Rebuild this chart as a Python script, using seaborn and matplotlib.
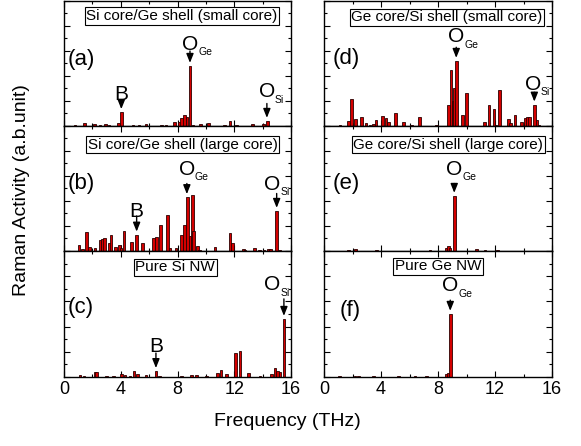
import numpy as np
import pandas as pd
import matplotlib
matplotlib.use("Agg")
import matplotlib.pyplot as plt
from matplotlib.ticker import MultipleLocator
import seaborn as sns

# ---- Raman activity spectra (frequency in THz, activity in arbitrary units) ----
freq_a = [0.78, 1.43, 2.14, 2.54, 2.94, 3.17, 3.85, 4.04, 4.87, 5.29, 5.78, 6.88,
          7.19, 7.78, 8.15, 8.30, 8.50, 8.68, 8.88, 9.10, 9.63, 10.17, 11.30, 11.70,
          12.17, 13.30, 14.05, 14.34]
act_a = [0.010, 0.025, 0.016, 0.008, 0.012, 0.008, 0.020, 0.110, 0.006, 0.006, 0.016, 0.008,
         0.006, 0.030, 0.030, 0.060, 0.085, 0.070, 0.480, 0.008, 0.016, 0.022, 0.006, 0.040,
         0.010, 0.016, 0.014, 0.040]

freq_b = [1.06, 1.30, 1.60, 1.78, 2.18, 2.54, 2.72, 2.84, 3.19, 3.31, 3.62, 3.90, 4.02,
          4.23, 4.77, 5.12, 5.52, 6.29, 6.53, 6.81, 7.31, 7.47, 7.89, 8.29, 8.48, 8.71,
          8.88, 9.04, 9.14, 9.42, 9.54, 10.64, 11.70, 11.89, 12.64, 12.76, 13.41, 13.77,
          14.10, 14.40, 14.57, 14.99, 15.20]
act_b = [0.050, 0.015, 0.155, 0.030, 0.022, 0.090, 0.095, 0.100, 0.060, 0.125, 0.030, 0.045, 0.025,
         0.160, 0.075, 0.130, 0.060, 0.100, 0.108, 0.205, 0.290, 0.020, 0.025, 0.130, 0.210, 0.430,
         0.120, 0.450, 0.160, 0.040, 0.010, 0.030, 0.145, 0.065, 0.014, 0.008, 0.020, 0.010,
         0.006, 0.015, 0.015, 0.320, 0.006]

freq_c = [1.13, 1.41, 2.18, 2.30, 3.00, 3.47, 4.06, 4.30, 4.65, 4.93, 5.17, 5.78, 6.48,
          6.72, 8.29, 9.00, 9.35, 10.06, 10.83, 11.06, 11.47, 12.10, 12.40, 12.99, 13.80,
          14.64, 14.87, 15.03, 15.22, 15.50]
act_c = [0.016, 0.008, 0.040, 0.040, 0.006, 0.006, 0.024, 0.016, 0.006, 0.048, 0.024, 0.016, 0.046,
         0.006, 0.006, 0.016, 0.016, 0.006, 0.035, 0.055, 0.025, 0.190, 0.205, 0.035, 0.006,
         0.024, 0.072, 0.048, 0.040, 0.460]

freq_d = [1.12, 1.71, 1.94, 2.22, 2.64, 2.95, 3.23, 3.46, 3.65, 4.12, 4.35, 4.51, 5.03,
          5.57, 6.15, 6.69, 7.91, 8.72, 8.91, 9.05, 9.13, 9.28, 9.73, 10.01, 11.25, 11.58,
          11.93, 12.07, 12.32, 12.93, 13.10, 13.40, 13.87, 14.11, 14.27, 14.41, 14.79,
          14.95, 15.09]
act_d = [0.006, 0.040, 0.215, 0.055, 0.070, 0.024, 0.008, 0.016, 0.045, 0.080, 0.060, 0.030, 0.100,
         0.030, 0.006, 0.070, 0.008, 0.170, 0.450, 0.200, 0.300, 0.520, 0.090, 0.260, 0.030, 0.170,
         0.135, 0.008, 0.290, 0.055, 0.024, 0.090, 0.030, 0.060, 0.070, 0.070, 0.170,
         0.050, 0.008]

freq_e = [1.71, 2.22, 3.70, 7.44, 8.56, 8.72, 8.84, 9.14, 10.71, 11.30, 12.16]
act_e = [0.008, 0.016, 0.006, 0.006, 0.024, 0.040, 0.024, 0.440, 0.016, 0.010, 0.008]

freq_f = [1.10, 2.17, 2.41, 3.46, 5.21, 6.39, 7.20, 8.56, 8.72, 8.86]
act_f = [0.010, 0.006, 0.006, 0.006, 0.005, 0.005, 0.005, 0.024, 0.032, 0.500]

panel_tags = ["(a)", "(b)", "(c)", "(d)", "(e)", "(f)"]
panel_titles = ["Si core/Ge shell (small core)", "Si core/Ge shell (large core)", "Pure Si NW",
                "Ge core/Si shell (small core)", "Ge core/Si shell (large core)", "Pure Ge NW"]

# arrow labels: (marked bar, arrow x, label x, arrow tail y, label centre y, letter, subscript)
peaks_a = [(4.04, 4.04, 4.04, 0.21, 0.27, "B", ""),
           (8.88, 8.88, 8.88, 0.60, 0.67, "O", "Ge"),
           (14.34, 14.30, 14.30, 0.18, 0.29, "O", "Si")]
peaks_b = [(5.12, 5.12, 5.12, 0.28, 0.33, "B", ""),
           (8.71, 8.66, 8.66, 0.54, 0.67, "O", "Ge"),
           (14.99, 14.99, 14.70, 0.46, 0.55, "O", "Si")]
peaks_c = [(6.48, 6.48, 6.48, 0.19, 0.26, "B", ""),
           (15.50, 15.50, 14.70, 0.62, 0.75, "O", "Si")]
peaks_d = [(9.28, 9.28, 9.28, 0.63, 0.73, "O", "Ge"),
           (14.79, 14.76, 14.66, 0.27, 0.35, "O", "Si")]
peaks_e = [(9.14, 9.14, 9.14, 0.54, 0.67, "O", "Ge")]
peaks_f = [(8.86, 8.86, 8.84, 0.61, 0.74, "O", "Ge")]

x_ticks = [0, 4, 8, 12, 16]

sns.set_theme(style="ticks")
plt.rcParams["font.family"] = ["Liberation Sans", "DejaVu Sans"]
plt.rcParams["text.color"] = "black"
plt.rcParams["xtick.color"] = "black"
plt.rcParams["ytick.color"] = "black"

W, H = 581, 446
fig = plt.figure(figsize=(W / 100, H / 100), dpi=100)


def axes_px(x0, x1, y0, y1):
    return fig.add_axes([x0 / W, 1 - y1 / H, (x1 - x0) / W, (y1 - y0) / H])


cols = [(64, 291), (324, 552)]
rows = [(1, 126), (126, 251), (251, 377)]

spectra = [(freq_a, act_a, peaks_a), (freq_b, act_b, peaks_b), (freq_c, act_c, peaks_c),
           (freq_d, act_d, peaks_d), (freq_e, act_e, peaks_e), (freq_f, act_f, peaks_f)]

tag_pos = [(0.018, 0.53), (0.018, 0.54), (0.018, 0.55),
           (0.040, 0.54), (0.040, 0.54), (0.070, 0.53)]
title_pos = [(0.52, 0.88), (0.524, 0.85), (0.49, 0.87),
             (0.54, 0.87), (0.545, 0.85), (0.50, 0.88)]

BAR_W = 0.18
FACE = "#d40000"
EDGE = "#2a0000"

for i, (freqs, acts, peaks) in enumerate(spectra):
    c, r = divmod(i, 3)
    ax = axes_px(cols[c][0], cols[c][1], rows[r][0], rows[r][1])
    df = pd.DataFrame({"freq": freqs, "act": acts})
    spacing = np.min(np.diff(np.unique(df["freq"])))
    sns.barplot(data=df, x="freq", y="act", native_scale=True, width=BAR_W / spacing,
                color=FACE, saturation=1, edgecolor=EDGE, linewidth=0.6,
                errorbar=None, ax=ax)
    ax.set_xlim(0, 16)
    ax.set_ylim(0, 1)
    ax.set_xlabel("")
    ax.set_ylabel("")
    ax.xaxis.set_major_locator(MultipleLocator(4))
    ax.xaxis.set_minor_locator(MultipleLocator(2))
    ax.yaxis.set_major_locator(MultipleLocator(0.2))
    ax.yaxis.set_minor_locator(MultipleLocator(0.1))
    ax.tick_params(which="both", direction="in", top=True, right=True,
                   labelleft=False, width=0.8)
    ax.tick_params(which="major", length=4)
    ax.tick_params(which="minor", length=2.5)
    if r == 2:
        ax.set_xticks(x_ticks)
        ax.set_xticklabels([str(t) for t in x_ticks], fontsize=13)
        ax.tick_params(axis="x", pad=3)
    else:
        ax.tick_params(labelbottom=False)
    for sp in ax.spines.values():
        sp.set_linewidth(1.0)
        sp.set_color("black")

    tx, ty = tag_pos[i]
    ax.text(tx, ty, panel_tags[i], transform=ax.transAxes, ha="left", va="center",
            fontsize=16)
    bx, by = title_pos[i]
    ax.text(bx, by, panel_titles[i], transform=ax.transAxes, ha="center", va="center",
            fontsize=11,
            bbox=dict(boxstyle="square,pad=0.1", fc="white", ec="black", lw=0.8))

    lookup = dict(zip(freqs, acts))
    for bar_f, arrow_x, text_x, tail, text_y, main, sub in peaks:
        tip = lookup[bar_f] + 0.025
        ax.annotate("", xy=(arrow_x, tip), xytext=(arrow_x, tail),
                    arrowprops=dict(arrowstyle="-|>,head_length=0.45,head_width=0.18",
                                    color="black", lw=1.0, shrinkA=0, shrinkB=0))
        base = text_y - 0.06
        ax.text(text_x, base, main, ha="center", va="baseline", fontsize=15)
        if sub:
            ax.annotate(sub, xy=(text_x, base), xytext=(5.8, -4.0),
                        textcoords="offset points", ha="left", va="baseline",
                        fontsize=7.5)

fig.text(22 / W, 1 - 190 / H, "Raman Activity (a.b.unit)", rotation=90,
         ha="center", va="center", fontsize=14)
fig.text(287 / W, 1 - 422 / H, "Frequency (THz)", ha="center", va="center", fontsize=14)

fig.savefig("out.png", dpi=100)
